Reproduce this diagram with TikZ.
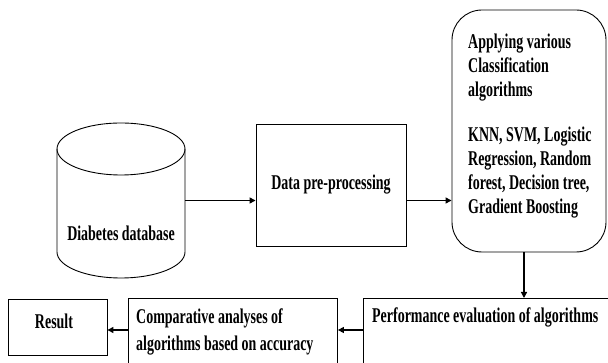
\documentclass[tikz,border=0pt]{standalone}
\usepackage{fontspec}
\setmainfont{Liberation Serif}[FakeStretch=0.665]
\usetikzlibrary{arrows.meta}
\begin{document}
\begin{tikzpicture}[x=1pt,y=1pt,
  box/.style={draw, line width=0.9pt, inner sep=0pt},
  lbl/.style={font=\fontsize{21}{24}\selectfont\bfseries, inner sep=0pt},
  arr/.style={line width=1.3pt, -{Triangle[length=6pt,width=6pt]}}]
\clip (0,0) rectangle (608,363);
% database cylinder
\node[minimum width=128pt, minimum height=155pt, inner sep=0pt] (db) at (121,162.5) {};
\draw[line width=0.9pt] (57,214) -- (57,111) arc[start angle=180,end angle=360,x radius=64,y radius=26] -- (185,214);
\draw[line width=0.9pt] (121,214) ellipse[x radius=64,y radius=26];
\node[lbl] (dbt) at (121,130) {Diabetes database};
% data pre-processing
\node[box, lbl, minimum width=150pt, minimum height=122pt] (dp) at (331,178) {Data pre-processing};
% classification box
\node[box, rounded corners=30pt, minimum width=154pt, minimum height=242pt] (rb) at (529,232) {};
\node[lbl, anchor=north west, align=left] (rbt) at (468,329.3) {Applying various\\Classification\\algorithms\\[21pt]KNN, SVM, Logistic\\Regression, Random\\forest, Decision tree,\\Gradient Boosting};
% bottom row
\node[box, anchor=north west, minimum width=260pt, minimum height=80pt] (pe) at (363,65) {};
\node[lbl, anchor=base west] (pet) at (372,40) {Performance evaluation of algorithms};
\node[box, anchor=north west, minimum width=209pt, minimum height=80pt] (cp) at (128,65) {};
\node[lbl, anchor=north west, align=left] (cpt) at (136,54.3) {Comparative analyses of\\[3pt]algorithms based on accuracy};
\node[box, minimum width=99pt, minimum height=56pt] (res) at (57.5,36) {};
\node[lbl] (rest) at (54,42) {Result};
% connectors
\coordinate (ay) at (0,33);
\draw[arr] (db.east) -- (db.east -| dp.west);
\draw[arr] (dp.east |- db.east) -- (rb.west |- db.east);
\draw[arr] ([xshift=-5pt]rb.south) -- ([xshift=-5pt]rb.south |- pe.north);
\draw[arr] (pe.west |- ay) -- (cp.east |- ay);
\draw[arr] (cp.west |- ay) -- (res.east |- ay);
\end{tikzpicture}
\end{document}
